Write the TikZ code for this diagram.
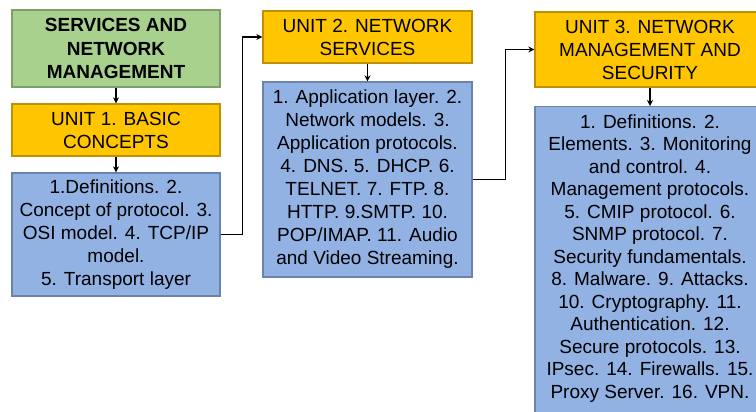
\documentclass[tikz,border=0pt]{standalone}
\usepackage{fontspec}
\setmainfont{Liberation Sans}
\usepackage{xcolor}
\usepackage{tikz}
\usetikzlibrary{arrows.meta,positioning}
\definecolor{titlegreen}{HTML}{A9D18E}
\definecolor{titleedge}{HTML}{7F9E6C}
\definecolor{unityellow}{HTML}{FFC600}
\definecolor{unitedge}{HTML}{BF9000}
\definecolor{topicblue}{HTML}{93B2E4}
\definecolor{topicedge}{HTML}{6B82AE}

\begin{document}
\begin{tikzpicture}[
  x=1pt, y=-1pt,
  every node/.style={font=\fontsize{19}{23}\selectfont},
  box/.style={rectangle, draw, line width=1.3pt, inner sep=2pt,
    align=center, text centered},
  titlebox/.style={box, fill=titlegreen, draw=titleedge, font=\fontsize{19}{23.3}\selectfont\bfseries},
  unitbox/.style={box, fill=unityellow, draw=unitedge},
  topicbox/.style={box, fill=topicblue, draw=topicedge},
  link/.style={->, line width=1.6pt, black},
  >={Stealth[length=6pt,width=6pt]},
]
  \useasboundingbox (0,0) rectangle (756,412);
  \clip (0,0) rectangle (756,412);

  % column 1
  \node[titlebox, minimum width=208pt, minimum height=77pt] (course) at (116,48.5)
    {SERVICES AND\\NETWORK\\MANAGEMENT};
  \node[unitbox, minimum width=208pt, minimum height=52pt] (unit1) at (116,130)
    {UNIT 1. BASIC\\CONCEPTS};
  \node[topicbox, minimum width=208pt, minimum height=123pt] (basics) at (116,234.5)
    {1.Definitions. 2.\\Concept of protocol. 3.\\OSI model. 4. TCP/IP\\model.\\5. Transport layer};

  % column 2
  \node[unitbox, minimum width=209pt, minimum height=52pt] (unit2) at (367.5,37)
    {UNIT 2. NETWORK\\SERVICES};
  \node[topicbox, minimum width=209pt, minimum height=195pt] (services) at (367.5,179.5)
    {1. Application layer. 2.\\Network models. 3.\\Application protocols.\\4. DNS. 5. DHCP. 6.\\TELNET. 7. FTP. 8.\\HTTP. 9.SMTP. 10.\\POP/IMAP. 11. Audio\\and Video Streaming.};

  % column 3 (runs past the bottom edge)
  \node[unitbox, minimum width=230pt, minimum height=75pt] (unit3) at (650,49.5)
    {UNIT 3. NETWORK\\MANAGEMENT AND\\SECURITY};
  \node[topicbox, anchor=north, minimum width=230pt, inner ysep=8pt, text depth=40pt,
    font=\fontsize{19}{22.5}\selectfont] (security) at (650,106)
    {1. Definitions. 2.\\Elements. 3. Monitoring\\and control. 4.\\Management protocols.\\5. CMIP protocol. 6.\\SNMP protocol. 7.\\Security fundamentals.\\8. Malware. 9. Attacks.\\10. Cryptography. 11.\\Authentication. 12.\\Secure protocols. 13.\\IPsec. 14. Firewalls. 15.\\Proxy Server. 16. VPN.};

  \draw[link] (course) -- (unit1);
  \draw[link] (unit1) -- (basics);
  \draw[link] (unit2) -- (services);
  \draw[link] (unit3) -- (security);

  \draw[link] (basics.east) -- ++(22,0) |- (unit2.west);
  \draw[link] (services.east) -- ++(33,0) |- (unit3.west);
\end{tikzpicture}
\end{document}
